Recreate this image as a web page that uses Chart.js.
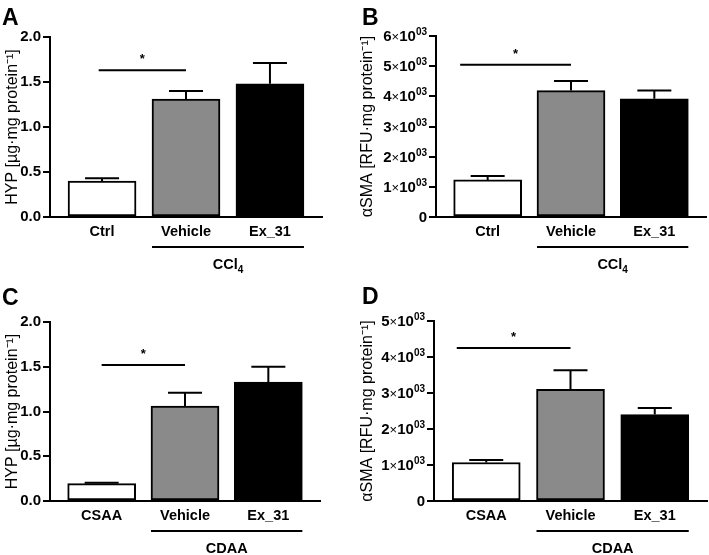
<!DOCTYPE html>
<html><head><meta charset="utf-8">
<script src="https://cdn.jsdelivr.net/npm/chart.js@4/dist/chart.umd.min.js"></script>
<style>
html,body{margin:0;padding:0;background:#fff;}
#wrap{position:relative;width:709px;height:555px;overflow:hidden;}
canvas{position:absolute;}
</style></head><body>
<div id="wrap">
<canvas id="cA" width="355" height="278" style="left:0;top:0"></canvas>
<canvas id="cB" width="354" height="278" style="left:355px;top:0"></canvas>
<canvas id="cC" width="355" height="277" style="left:0;top:278px"></canvas>
<canvas id="cD" width="354" height="277" style="left:355px;top:278px"></canvas>
</div>
<script>
// ---- data ----
const catsCCl4 = ['Ctrl', 'Vehicle', 'Ex_31'];
const catsCDAA = ['CSAA', 'Vehicle', 'Ex_31'];
const groupCCl4 = ['CCl', '4'];   // main text, subscript
const groupCDAA = ['CDAA', ''];

const hypCCl4 = [0.40, 1.31, 1.48];
const hypCCl4Err = [0.03, 0.09, 0.23];
const smaCCl4 = [1230, 4190, 3920];
const smaCCl4Err = [130, 320, 270];
const hypCDAA = [0.195, 1.06, 1.33];
const hypCDAAErr = [0.01, 0.15, 0.17];
const smaCDAA = [1070, 3100, 2400];
const smaCDAAErr = [70, 530, 180];

const hypTicks = [0, 0.5, 1.0, 1.5, 2.0];
const hypTickLabels = ['0.0', '0.5', '1.0', '1.5', '2.0'];
const smaTicksCCl4 = [0, 1000, 2000, 3000, 4000, 5000, 6000];
const smaTicksCDAA = [0, 1000, 2000, 3000, 4000, 5000];
const smaExponent = '03';

const hypTitle = 'HYP [µg·mg protein⁻¹]';
const smaTitle = 'αSMA [RFU·mg protein⁻¹]';

// significance bars: [from category, to category, level, label]
const sigHypCCl4 = [0, 1, 1.63, '*'];
const sigSmaCCl4 = [0, 1, 5050, '*'];
const sigHypCDAA = [0, 1, 1.52, '*'];
const sigSmaCDAA = [0, 1, 4250, '*'];

const barColors = ['#ffffff', '#8a8a8a', '#000000'];
const FF = '"Liberation Sans", Arial, Helvetica, sans-serif';

const panels = [
  {id:'cA', letter:'A', cats:catsCCl4, vals:hypCCl4, errs:hypCCl4Err, yMax:2, yTicks:hypTicks, yLabels:hypTickLabels, sci:false,
   title:hypTitle, group:groupCCl4, sig:sigHypCCl4, sigShift:-0.04, area:{left:50,right:322,top:37,bottom:217}, letterPos:[2,25]},
  {id:'cB', letter:'B', cats:catsCCl4, vals:smaCCl4, errs:smaCCl4Err, yMax:6000, yTicks:smaTicksCCl4, yLabels:null, sci:true,
   title:smaTitle, group:groupCCl4, sig:sigSmaCCl4, sigShift:-0.33, area:{left:81,right:351,top:36,bottom:217}, letterPos:[7,25]},
  {id:'cC', letter:'C', cats:catsCDAA, vals:hypCDAA, errs:hypCDAAErr, yMax:2, yTicks:hypTicks, yLabels:hypTickLabels, sci:false,
   title:hypTitle, group:groupCDAA, sig:sigHypCDAA, sigShift:0, area:{left:50,right:320,top:44,bottom:223}, letterPos:[2,27]},
  {id:'cD', letter:'D', cats:catsCDAA, vals:smaCDAA, errs:smaCDAAErr, yMax:5000, yTicks:smaTicksCDAA, yLabels:null, sci:true,
   title:smaTitle, group:groupCDAA, sig:sigSmaCDAA, sigShift:-0.35, area:{left:79,right:352,top:43,bottom:223}, letterPos:[7,26]}
];

function build(p) {
  const canvas = document.getElementById(p.id);
  const W = canvas.width, H = canvas.height;
  const a = p.area;
  const extras = {
    id: 'extras',
    afterDraw(chart) {
      const c = chart.ctx, xs = chart.scales.x, ys = chart.scales.y, ca = chart.chartArea;
      c.save();
      c.strokeStyle = '#000'; c.fillStyle = '#000'; c.lineWidth = 2;
      // error bars (upper)
      const meta = chart.getDatasetMeta(0);
      meta.data.forEach((el, i) => {
        const x = el.x, yTop = el.y, yE = ys.getPixelForValue(p.vals[i] + p.errs[i]);
        c.beginPath();
        c.moveTo(x, yTop); c.lineTo(x, yE);
        c.moveTo(x - 17, yE); c.lineTo(x + 17, yE);
        c.stroke();
      });
      // significance
      const [f, t, lvl, lab] = p.sig;
      const sx1 = xs.getPixelForValue(f + p.sigShift), sx2 = xs.getPixelForValue(t);
      const sy = ys.getPixelForValue(lvl);
      c.beginPath(); c.moveTo(sx1, sy); c.lineTo(sx2, sy); c.stroke();
      c.font = 'bold 13px ' + FF; c.textAlign = 'center'; c.textBaseline = 'alphabetic';
      c.fillText(lab, (sx1 + sx2) / 2, sy - 7);
      // group line + label
      const gx1 = xs.getPixelForValue(1) - 34, gx2 = xs.getPixelForValue(2) + 34;
      const gy = ca.bottom + 30;
      c.beginPath(); c.moveTo(gx1, gy); c.lineTo(gx2, gy); c.stroke();
      const mainF = 'bold 14.5px ' + FF, subF = 'bold 10px ' + FF;
      c.font = mainF; const w1 = c.measureText(p.group[0]).width;
      c.font = subF; const w2 = p.group[1] ? c.measureText(p.group[1]).width : 0;
      const gcx = (gx1 + gx2) / 2, start = gcx - (w1 + w2) / 2, base = ca.bottom + 52;
      c.textAlign = 'left';
      c.font = mainF; c.fillText(p.group[0], start, base);
      if (p.group[1]) { c.font = subF; c.fillText(p.group[1], start + w1, base + 4); }
      // scientific y tick labels
      if (p.sci) {
        const right = ca.left - 9;
        ys.ticks.forEach(tk => {
          const y = ys.getPixelForValue(tk.value);
          const yb = y + 5;
          if (tk.value === 0) {
            c.font = 'bold 15px ' + FF; c.textAlign = 'right'; c.fillText('0', right, yb); return;
          }
          const parts = [
            [String(tk.value / 1000), 'bold 15px ' + FF, 0],
            ['×', '13px ' + FF, 0],
            ['10', 'bold 15px ' + FF, 0],
            [smaExponent, 'bold 10px ' + FF, -6]
          ];
          let tot = 0;
          parts.forEach(pt => { c.font = pt[1]; pt.push(c.measureText(pt[0]).width); tot += pt[3]; });
          let x = right - tot; c.textAlign = 'left';
          parts.forEach(pt => { c.font = pt[1]; c.fillText(pt[0], x, yb + pt[2]); x += pt[3]; });
        });
      }
      // panel letter
      c.font = 'bold 23px ' + FF; c.textAlign = 'left';
      c.fillText(p.letter, p.letterPos[0], p.letterPos[1]);
      c.restore();
    }
  };
  return new Chart(canvas, {
    type: 'bar',
    data: {
      datasets: [{
        data: p.vals.map((v, i) => ({x: i, y: v})),
        backgroundColor: barColors,
        borderColor: '#000',
        borderWidth: 2,
        borderSkipped: false,
        barThickness: 68
      }]
    },
    options: {
      responsive: false,
      devicePixelRatio: 1,
      animation: false,
      layout: {padding: {left: 0, right: W - a.right, top: a.top, bottom: 0}},
      plugins: {legend: {display: false}, tooltip: {enabled: false}},
      scales: {
        x: {
          type: 'linear', min: -0.62, max: 2.62, offset: false,
          afterBuildTicks: s => { s.ticks = p.cats.map((c, i) => ({value: i})); },
          afterFit: s => { s.height = H - a.bottom; },
          grid: {display: false, drawTicks: false, offset: false},
          border: {display: true, color: '#000', width: 2},
          ticks: {autoSkip: false, maxRotation: 0, padding: 6, color: '#000',
                  font: {family: FF, size: 14.5, weight: 'bold'},
                  callback: v => p.cats[v]}
        },
        y: {
          type: 'linear', min: 0, max: p.yMax,
          afterBuildTicks: s => { s.ticks = p.yTicks.map(v => ({value: v})); },
          afterFit: s => { s.width = a.left; },
          grid: {drawOnChartArea: false, drawTicks: true, tickLength: 7, color: '#000', lineWidth: 2},
          border: {display: true, color: '#000', width: 2},
          ticks: {padding: 2, color: p.sci ? 'rgba(0,0,0,0)' : '#000',
                  font: {family: FF, size: 15, weight: 'bold'},
                  callback: (v, i) => p.sci ? String(v) : p.yLabels[p.yTicks.indexOf(v)]},
          title: {display: true, text: p.title, color: '#000', padding: {top: 3, bottom: 0},
                  font: {family: FF, size: 16, weight: 'normal'}}
        }
      }
    },
    plugins: [extras]
  });
}
panels.forEach(build);
</script>
</body></html>
